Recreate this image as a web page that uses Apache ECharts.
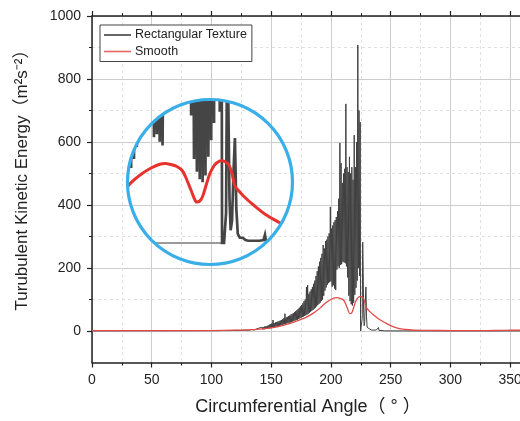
<!DOCTYPE html>
<html><head><meta charset="utf-8">
<script src="https://cdn.jsdelivr.net/npm/echarts@6/dist/echarts.min.js"></script>
<style>html,body{margin:0;padding:0;background:#fff}#c{width:520px;height:421px}</style>
</head><body><div id="c"></div>
<script>
// ---------- data ----------
const seriesNames = ['Rectangular Texture', 'Smooth'];
const yMajorTicks = [0, 200, 400, 600, 800, 1000];
const yMinorTicks = [100, 300, 500, 700, 900];
const xAxisTitle = 'Circumferential Angle\uFF08 \u00B0 \uFF09';
const yAxisTitle = 'Turubulent Kinetic Energy\uFF08m\u00B2s\u207B\u00B2\uFF09';

// Rectangular Texture: [angle (deg), TKE]
const textureData = [
 [0,0.3],[10,0.5],[20,0.4],[30,0.6],[40,0.5],[50,0.7],[60,0.6],[70,0.8],[80,0.8],[90,1],
 [100,1.2],[105,1],[110,1.5],[115,1.3],[120,2],[124,1.6],[128,3],[131,2],[134,5],[136,3],[138,7],[139.5,4],
 [140,3],[140.5,10],[141,4],[141.5,11],[142,4],[142.5,12],[143,5],[143.5,12],[144,5],[144.5,14],
 [145,6],[145.5,15],[146,7],[146.5,16],[147,8],[147.5,18],[148,8],[148.5,20],[149,9],[149.5,22],
 [150,9],[150.5,24],[151,10],[151.5,35],[152,12],[152.5,25],[153,12],[153.5,27],[154,14],[154.5,28],
 [155,14],[155.5,30],[156,16],[156.5,31],[157,17],[157.5,33],[158,18],[158.5,35],[159,19],[159.5,37],
 [160,20],[160.5,40],[161,22],[161.5,55],[162,23],[162.5,43],[163,24],[163.5,45],[164,25],[164.5,47],
 [165,26],[165.5,49],[166,27],[166.5,52],[167,29],[167.5,54],[168,30],[168.5,57],[169,32],[169.5,60],
 [170,33],[170.5,63],[171,35],[171.5,66],[172,36],[172.5,70],[173,38],[173.5,74],[174,40],[174.5,78],
 [175,42],[175.5,82],[176,44],[176.5,88],[177,46],[177.5,95],[178,48],[178.5,100],[179,50],[179.5,140],
 [180,52],[180.5,146],[181,55],[181.5,118],[182,58],[182.5,125],[183,61],[183.5,132],[184,64],[184.5,140],
 [185,67],[185.5,150],[186,70],[186.5,160],[187,74],[187.5,175],[188,78],[188.5,190],[189,82],[189.5,205],
 [190,86],[190.5,220],[191,90],[191.5,232],[192,95],[192.5,245],[193,100],[193.5,273],[194,112],[194.5,262],
 [195,128],[195.5,285],[196,138],[196.5,290],[197,147],[197.5,300],[198,152],[198.5,310],[199,155],[199.5,394],
 [200,158],[200.5,325],[201,141],[201.5,335],[202,145],[202.5,345],[203,135],[203.5,352],[204,130],[204.5,362],
 [205,195],[205.5,380],[206,205],[206.5,420],[207,200],[207.5,597],[208,210],[208.5,533],[209,212],[209.5,470],
 [210,220],[210.5,500],[211,218],[211.5,515],[212,215],[212.5,721],[213,205],[213.5,520],[214,170],[214.5,505],
 [215,112],[215.5,553],[216,95],[216.5,500],[217,85],[217.5,520],[218,81],[218.5,480],[219,90],[219.5,622],
 [220,115],[220.5,520],[221,137],[221.5,600],[222,160],[222.5,908],[223,200],[223.5,700],[224,175],[224.5,663],
 [224.8,0],[225.5,0],[226.2,40],[226.6,282],[227,185],[227.4,60],[227.8,17],[228.3,30],[228.8,95],[229.3,140],
 [229.8,45],[230.3,12],[231,7],[232,7],[233,4],[234,3],[236,3],[238,3],[239.3,4],[239.8,11],[240.2,2],[241,1],
 [245,0.5],[250,0.4],[260,0.3],[280,0.3],[300,0.3],[330,0.3],[360,0.3]
];

// Smooth: [angle (deg), TKE]
const smoothData = [
 [0,1],[50,1],[100,1.5],[120,2.5],[130,3.5],[140,6],[150,10],[160,18],[170,30],[175,37],[180,45],[185,56],
 [188,64],[191.6,75],[194,84],[197,93],[200,100],[203,105],[205,106],[206.5,105],[209,102],[211,96],[212.5,84],
 [214,70],[215.7,55],[217,56],[218,62],[219.3,78],[220.6,93],[222,103],[223,107],[224.6,110],[226,108],[227.2,104],
 [228.3,92],[229.3,76],[231,68],[233,60],[236,50],[240,38],[245,27],[250,17],[255,10],[260,6],[265,4],[270,3],
 [280,2],[300,1.5],[330,1.5],[345,2],[360,3]
];

// magnified inset: visible angle / TKE window and its zero baseline span
const insetAngleRange = [191.5, 249.5];
const insetValueRange = [-32, 193];
const insetBaseline = [200.3, 225];

// ---------- layout ----------
const FONT = "'Liberation Sans', Arial, 'Noto Sans CJK SC', sans-serif";
const INK = '#222';
const CIRCLE = {cx: 210, cy: 182, r: 82.5};

const chart = echarts.init(document.getElementById('c'), null, {renderer: 'canvas'});

const option = {
  animation: false,
  backgroundColor: '#fff',
  textStyle: {fontFamily: FONT},
  grid: [
    {left: 92, top: 16, width: 448, height: 346.5, containLabel: false, outerBoundsMode: 'none'},
    {left: 126.8, top: 98.25, width: 165.9, height: 168.75, containLabel: false, outerBoundsMode: 'none'}
  ],
  legend: {
    data: seriesNames, orient: 'vertical', left: 100, top: 25,
    icon: 'rect', itemWidth: 27, itemHeight: 1.6,
    padding: [3, 5, 3, 4], itemGap: 2.5,
    backgroundColor: '#fff', borderColor: '#444', borderWidth: 1, borderRadius: 0,
    textStyle: {fontSize: 12.5, color: INK, fontFamily: FONT, lineHeight: 14, padding: [0, 0, 0, -1]}
  },
  xAxis: [
    {type: 'value', gridIndex: 0, position: 'bottom', min: 0, max: 375, interval: 50,
     axisLine: {show: true, onZero: false, lineStyle: {color: INK, width: 1.5}},
     axisTick: {show: true, length: 5, lineStyle: {color: INK, width: 1.2}},
     minorTick: {show: true, splitNumber: 2, length: 3, lineStyle: {color: INK, width: 1}},
     axisLabel: {fontSize: 14, color: INK, margin: 11, fontFamily: FONT, formatter: v => String(v)},
     splitLine: {show: true, lineStyle: {color: '#cdcdcd', width: 1}},
     minorSplitLine: {show: true, lineStyle: {color: '#e0e0e0', width: 1, type: [3, 3]}}},
    {type: 'value', gridIndex: 0, position: 'top', min: 0, max: 375, interval: 50,
     axisLine: {show: true, onZero: false, lineStyle: {color: INK, width: 1.5}},
     axisTick: {show: true, length: 5, lineStyle: {color: INK, width: 1.2}},
     minorTick: {show: true, splitNumber: 2, length: 3, lineStyle: {color: INK, width: 1}},
     axisLabel: {show: false}, splitLine: {show: false}},
    {type: 'value', gridIndex: 1, min: insetAngleRange[0], max: insetAngleRange[1], show: false}
  ],
  yAxis: [
    {type: 'value', gridIndex: 0, position: 'left', min: -100, max: 1000, interval: 100,
     axisLine: {show: true, onZero: false, lineStyle: {color: INK, width: 1.5}},
     axisTick: {show: true, length: 5, customValues: yMajorTicks, lineStyle: {color: INK, width: 1.2}},
     axisLabel: {fontSize: 14, color: INK, margin: 11, fontFamily: FONT, customValues: yMajorTicks,
                 formatter: v => String(v)},
     splitLine: {show: true, lineStyle: {color: '#cdcdcd', width: 1}}},
    {type: 'value', gridIndex: 0, position: 'left', min: -100, max: 1000, interval: 100,
     axisLine: {show: false},
     axisTick: {show: true, length: 3, customValues: yMinorTicks, lineStyle: {color: INK, width: 1}},
     axisLabel: {show: false, customValues: yMinorTicks},
     splitLine: {show: true, lineStyle: {color: '#e0e0e0', width: 1, type: [3, 3]}}},
    {type: 'value', gridIndex: 1, min: insetValueRange[0], max: insetValueRange[1], show: false}
  ],
  series: [
    {name: seriesNames[0], type: 'line', xAxisIndex: 0, yAxisIndex: 0, data: textureData,
     symbol: 'none', showSymbol: false, lineStyle: {color: '#404040', width: 1}, itemStyle: {color: '#404040'}, z: 3},
    {name: seriesNames[1], type: 'line', xAxisIndex: 0, yAxisIndex: 0, data: smoothData, smooth: 0.3,
     symbol: 'none', showSymbol: false, lineStyle: {color: '#e04a47', width: 1.3}, itemStyle: {color: '#e8686a'}, z: 4},
    {type: 'custom', xAxisIndex: 2, yAxisIndex: 2, clip: false, silent: true, z: 6,
     data: [[(insetAngleRange[0] + insetAngleRange[1]) / 2, 0]],
     renderItem: function (params, api) {
       const inWin = d => d[0] >= insetAngleRange[0] - 3 && d[0] <= insetAngleRange[1] + 3;
       const tex = textureData.filter(inWin).map(d => api.coord(d));
       const smo = smoothData.filter(inWin).map(d => api.coord(d));
       const b0 = api.coord([insetBaseline[0], 0]);
       const b1 = api.coord([insetBaseline[1], 0]);
       return {
         type: 'group',
         clipPath: {type: 'circle', shape: {cx: CIRCLE.cx, cy: CIRCLE.cy, r: CIRCLE.r}},
         children: [
           {type: 'line', shape: {x1: b0[0], y1: b0[1], x2: b1[0], y2: b1[1]},
            style: {stroke: '#7a7a7a', lineWidth: 1.5}},
           {type: 'polyline', shape: {points: tex},
            style: {stroke: '#454545', lineWidth: 2.7, fill: null, lineJoin: 'miter'}},
           {type: 'polyline', shape: {points: smo, smooth: 0.3},
            style: {stroke: '#e8322e', lineWidth: 3, fill: null}}
         ]
       };
     }}
  ],
  graphic: [
    {type: 'circle', shape: CIRCLE, z: 100,
     style: {fill: null, stroke: '#3aaee8', lineWidth: 3.2}},
    {type: 'text', x: 308, y: 407, z: 100,
     style: {text: xAxisTitle, fill: INK, font: '18px ' + FONT, textAlign: 'center', textVerticalAlign: 'middle'}},
    {type: 'text', x: 22, y: 176, rotation: Math.PI / 2, z: 100,
     style: {text: yAxisTitle, fill: INK, font: '17px ' + FONT, textAlign: 'center', textVerticalAlign: 'middle'}}
  ]
};
chart.setOption(option);
</script>
</body></html>
